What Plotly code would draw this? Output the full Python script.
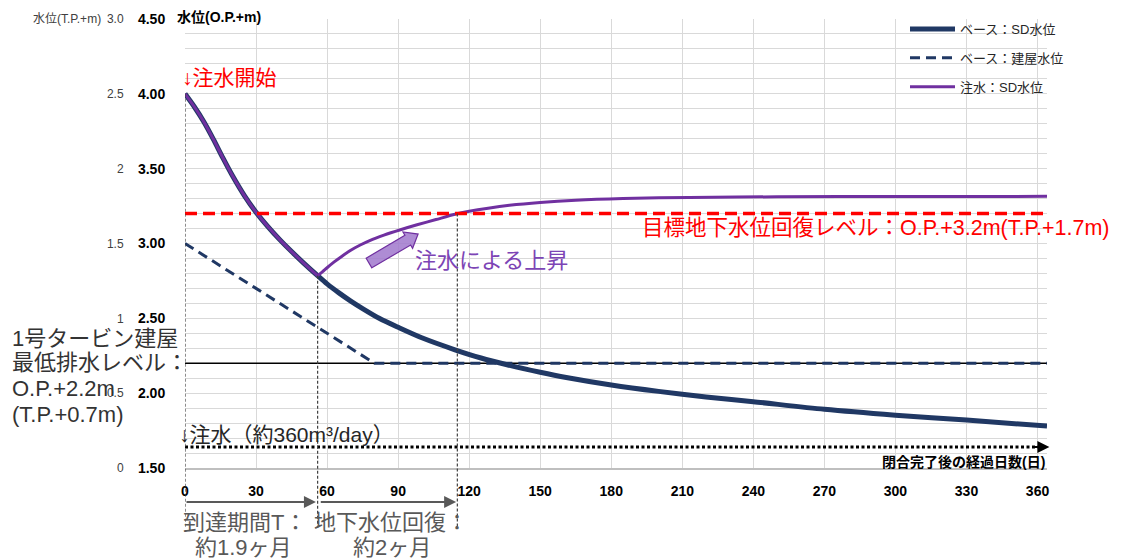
import math
import plotly.graph_objects as go

# ---------------- data ----------------
base_days = [0, 4, 8, 12, 16, 20, 25, 30, 35, 40, 45, 50, 56, 60, 65, 70, 75, 82, 90, 100,
             114, 125, 136, 150, 161, 180, 200, 220, 240, 270, 300, 330, 364]
base_sd = [4.00, 3.912, 3.812, 3.696, 3.572, 3.454, 3.322, 3.209, 3.113, 3.026, 2.946,
           2.871, 2.785, 2.73, 2.67, 2.615, 2.565, 2.50, 2.44, 2.37, 2.29, 2.235, 2.19,
           2.14, 2.105, 2.055, 2.012, 1.975, 1.943, 1.892, 1.853, 1.82, 1.78]

bld_days = [0, 80, 364]
bld_level = [3.00, 2.20, 2.20]

inj_days = [0, 4, 8, 12, 16, 20, 25, 30, 35, 40, 45, 50, 56,
            58, 60, 63, 66, 70, 74, 78, 84, 91, 98, 106, 114, 120, 128, 137, 150, 165,
            185, 213, 250, 300, 364]
inj_sd = [4.00, 3.912, 3.812, 3.696, 3.572, 3.454, 3.322, 3.209, 3.113, 3.026, 2.946,
          2.871, 2.785, 2.81, 2.838, 2.877, 2.912, 2.955, 2.99, 3.02, 3.056, 3.092, 3.125,
          3.16, 3.195, 3.215, 3.236, 3.255, 3.274, 3.289, 3.30, 3.308, 3.312, 3.314, 3.315]
inj_start_day = 56

target_level = 3.2
min_drain_level = 2.2
injection_rate_level = 1.64
start_day = 0
reach_day = 56
recover_day = 115

x_ticks = [0, 30, 60, 90, 120, 150, 180, 210, 240, 270, 300, 330, 360]
op_ticks = [1.5, 2.0, 2.5, 3.0, 3.5, 4.0, 4.5]
op_labels = ["1.50", "2.00", "2.50", "3.00", "3.50", "4.00", "4.50"]
tp_ticks = [0, 0.5, 1.0, 1.5, 2.0, 2.5, 3.0]
tp_labels = ["0", "0.5", "1", "1.5", "2", "2.5", "3.0"]

names = ["ベース：SD水位", "ベース：建屋水位", "注水：SD水位"]

# ---------------- style / layout ----------------
OFF = 8                      # page body margin
PL, PR, PT, PB = 185, 1047, 19, 468   # plot box in screenshot pixels
W, H = 1121 - OFF, 559 - OFF
ML, MT = PL - OFF, PT - OFF
PW, PH = PR - PL, PB - PT
MR = W - ML - PW
MB = H - MT - PH
XR = [0, 364]
YR = [1.5, 4.5]
NAVY = "#203864"
PURPLE = "#7030a0"
RED = "#ff0000"
GRID = "#d9d9d9"
FONT = "Liberation Sans, Noto Sans CJK JP, sans-serif"

sx = PW / (XR[1] - XR[0])
sy = PH / (YR[1] - YR[0])


def ypaper(v):
    return (v - YR[0]) / (YR[1] - YR[0])


def xp(px):
    return (px - PL) / PW


def yp(py):
    return (PB - py) / PH


fig = go.Figure()

fig.add_trace(go.Scatter(x=base_days, y=base_sd, mode="lines", name=names[0],
                         line=dict(color=NAVY, width=5, shape="spline", smoothing=0.8),
                         legendgroup="a"))
fig.add_trace(go.Scatter(x=bld_days, y=bld_level, mode="lines", name=names[1],
                         line=dict(color=NAVY, width=3, dash="10px,6px"),
                         legendgroup="b"))
k = inj_days.index(inj_start_day)
fig.add_trace(go.Scatter(x=inj_days[:k + 1], y=inj_sd[:k + 1], mode="lines", name=names[2],
                         line=dict(color=PURPLE, width=3, shape="spline", smoothing=0.8),
                         legendgroup="c"))
fig.add_trace(go.Scatter(x=inj_days[k:], y=inj_sd[k:], mode="lines", name=names[2],
                         line=dict(color=PURPLE, width=3, shape="spline", smoothing=0.8),
                         legendgroup="c", showlegend=False))
fig.add_trace(go.Scatter(x=[None], y=[None], yaxis="y2", showlegend=False,
                         hoverinfo="skip"))

shapes = []
shapes.append(dict(type="rect", xref="paper", yref="paper",
                   x0=xp(170), x1=xp(330), y0=yp(32), y1=yp(OFF),
                   fillcolor="white", line=dict(width=0), layer="between"))
for (a, b) in [(21, 38), (50, 66), (79, 95)]:
    shapes.append(dict(type="rect", xref="paper", yref="paper",
                       x0=xp(893), x1=1.0, y0=yp(b), y1=yp(a),
                       fillcolor="white", line=dict(width=0), layer="between"))
shapes.append(dict(type="line", xref="x", yref="y", x0=XR[0], x1=XR[1],
                   y0=min_drain_level, y1=min_drain_level,
                   line=dict(color="black", width=1.5), layer="between"))
shapes.append(dict(type="line", xref="x", yref="y", x0=XR[0], x1=363,
                   y0=target_level, y1=target_level,
                   line=dict(color=RED, width=3.5, dash="12px,6px"), layer="above"))
shapes.append(dict(type="line", xref="x", yref="y", x0=XR[0], x1=361,
                   y0=injection_rate_level, y1=injection_rate_level,
                   line=dict(color="black", width=3, dash="3px,2.5px"), layer="above"))
bottom_p = yp(528)
for d, v in [(start_day, base_sd[0]), (reach_day, 2.785), (recover_day, target_level)]:
    shapes.append(dict(type="line", xref="x", yref="paper", x0=d, x1=d,
                       y0=ypaper(v), y1=bottom_p,
                       line=dict(color="#404040", width=1.2, dash="3px,2px"), layer="above"))


def to_data(px, py):
    return ((px - PL) / sx, YR[0] + (PB - py) / sy)


T = (369.0, 263.0)
ang = math.atan2(-23.0, 39.0)
u = (math.cos(ang), math.sin(ang))
n = (-u[1], u[0])
w, hh, body, head = 5.6, 9.5, 45.0, 12.0
B = (T[0] + body * u[0], T[1] + body * u[1])
P = (B[0] + head * u[0], B[1] + head * u[1])
pts = [
    (T[0] + w * n[0], T[1] + w * n[1]),
    (B[0] + w * n[0], B[1] + w * n[1]),
    (B[0] + hh * n[0], B[1] + hh * n[1]),
    P,
    (B[0] - hh * n[0], B[1] - hh * n[1]),
    (B[0] - w * n[0], B[1] - w * n[1]),
    (T[0] - w * n[0], T[1] - w * n[1]),
]
dpts = [to_data(*p) for p in pts]
path = "M " + " L ".join(f"{x:.4f},{y:.4f}" for x, y in dpts) + " Z"
shapes.append(dict(type="path", xref="x", yref="y", path=path,
                   fillcolor="rgba(160,120,205,0.85)", line=dict(color=PURPLE, width=1.2),
                   layer="above"))

ann = []


def text(t, px, py, size, color, xanchor="left", align="left"):
    ann.append(dict(text=t, x=xp(px), y=yp(py), xref="paper", yref="paper",
                    xanchor=xanchor, yanchor="middle", align=align, showarrow=False,
                    font=dict(color=color, size=size, family=FONT)))


text("↓注水開始", 180, 77, 21, RED)
text("注水による上昇", 413, 260, 22, "#7c44b5")
text("目標地下水位回復レベル：O.P.+3.2m(T.P.+1.7m)", 640, 228, 21.5, RED)
for t, py in [("1号タービン建屋", 338), ("最低排水レベル：", 363),
              ("O.P.+2.2m", 388), ("(T.P.+0.7m)", 414)]:
    text(t, 10, py, 22, "#333333")
text("↓注水（約360m³/day）", 177, 434, 21, "#262626")
text("<b>閉合完了後の経過日数(日)</b>", 1047, 462, 14, "black", xanchor="right")
text("到達期間T：", 244, 522, 22, "#595959", xanchor="center")
text("約1.9ヶ月", 243, 547, 22, "#595959", xanchor="center")
text("地下水位回復：", 391, 522, 22, "#595959", xanchor="center")
text("約2ヶ月", 392, 547, 22, "#595959", xanchor="center")
text("水位(T.P.+m)", 103, 19, 12, "#404040", xanchor="right")
text("<b>水位(O.P.+m)</b>", 175, 17, 14, "black")

arrow_py = 502
for a0, a1 in [(start_day, reach_day - 0.7), (reach_day + 0.7, recover_day - 0.5)]:
    ann.append(dict(text="", x=a1, y=yp(arrow_py), xref="x", yref="paper",
                    axref="pixel", ayref="pixel", ax=-(a1 - a0) * sx, ay=0,
                    showarrow=True, arrowhead=2, arrowsize=1.2,
                    arrowwidth=2, arrowcolor="#595959", standoff=0))
ann.append(dict(text="", x=365, y=injection_rate_level, ax=358, ay=injection_rate_level,
                xref="x", yref="y", axref="x", ayref="y", showarrow=True, arrowhead=2,
                arrowsize=1.2, arrowwidth=2, arrowcolor="black", standoff=0))

fig.update_layout(
    width=W, height=H,
    margin=dict(l=ML, r=MR, t=MT, b=MB, autoexpand=False),
    paper_bgcolor="white", plot_bgcolor="white",
    font=dict(family=FONT, color="#333333"),
    shapes=shapes, annotations=ann,
    showlegend=True,
    legend=dict(x=xp(905), y=yp(14), xanchor="left", yanchor="top",
                bgcolor="rgba(0,0,0,0)", font=dict(size=13, color="#262626", family=FONT),
                tracegroupgap=9, itemwidth=45),
    xaxis=dict(range=XR, tickvals=x_ticks, ticktext=[f"<b>{v}</b>" for v in x_ticks],
               tickfont=dict(size=14, color="black", family=FONT),
               showgrid=True, gridcolor=GRID, gridwidth=1,
               showline=True, linecolor="#bfbfbf", linewidth=2,
               ticks="outside", ticklen=9, tickcolor="rgba(0,0,0,0)",
               zeroline=False, fixedrange=True, automargin=False),
    yaxis=dict(range=YR, tickvals=op_ticks, ticktext=[f"<b>{t}</b>" for t in op_labels],
               tickfont=dict(size=14, color="black", family=FONT),
               showgrid=True, gridcolor=GRID, gridwidth=1,
               minor=dict(dtick=0.1, tick0=1.5, showgrid=True, gridcolor=GRID, gridwidth=1),
               ticks="outside", ticklen=16, tickcolor="rgba(0,0,0,0)",
               showline=False, zeroline=False, fixedrange=True, automargin=False),
    yaxis2=dict(range=[0, 3], overlaying="y", side="left", anchor="x",
                tickvals=tp_ticks, ticktext=tp_labels,
                tickfont=dict(size=12, color="#404040", family=FONT),
                showgrid=False, ticks="outside", ticklen=58, tickcolor="rgba(0,0,0,0)",
                showline=False, zeroline=False, fixedrange=True, automargin=False),
)

fig.write_html("out.html")
